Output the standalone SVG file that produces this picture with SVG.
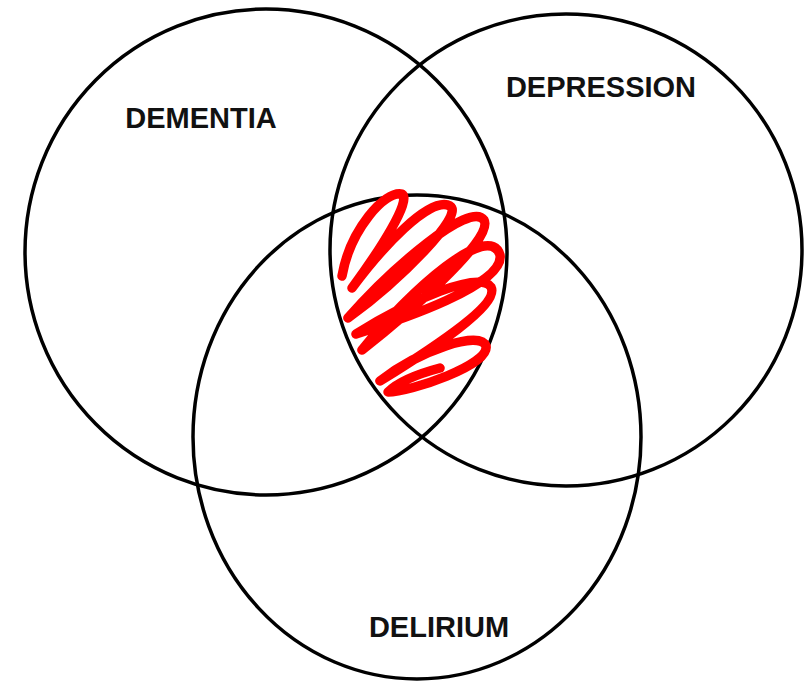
<svg xmlns="http://www.w3.org/2000/svg" width="810" height="684" viewBox="0 0 810 684">
<style>
.c{fill:none;stroke:#000;stroke-width:3.5}
.t{font-family:"Liberation Sans",Arial,sans-serif;font-weight:bold;font-size:29px;fill:#111;text-anchor:middle}
.s{fill:none;stroke:#f00;stroke-width:9.5;stroke-linejoin:round;stroke-linecap:round}
</style>
<rect width="810" height="684" fill="#fff"/>
<g id="dementia">
<ellipse class="c" cx="266" cy="252" rx="241" ry="243"/>
<text class="t" x="201" y="128">DEMENTIA</text>
</g>
<g id="depression">
<ellipse class="c" cx="566" cy="250" rx="236" ry="236"/>
<text class="t" x="601" y="97">DEPRESSION</text>
</g>
<g id="delirium">
<ellipse class="c" cx="417" cy="437" rx="224" ry="242"/>
<text class="t" x="439" y="637">DELIRIUM</text>
</g>
<g id="scribble">
<path class="s" d="M342,276 C350,230 385,190 402,194 C412,200 380,250 352,288 C380,250 430,195 450,206 C465,215 400,280 348,318 C390,270 470,200 484,220 C495,240 400,320 362,350 C410,290 490,220 500,255 C505,285 400,320 356,334 C410,300 480,270 491,287 C500,305 430,350 380,381 C420,350 480,330 486,346 C490,365 410,392 388,392 C400,380 425,372 440,368"/>
</g>
</svg>
